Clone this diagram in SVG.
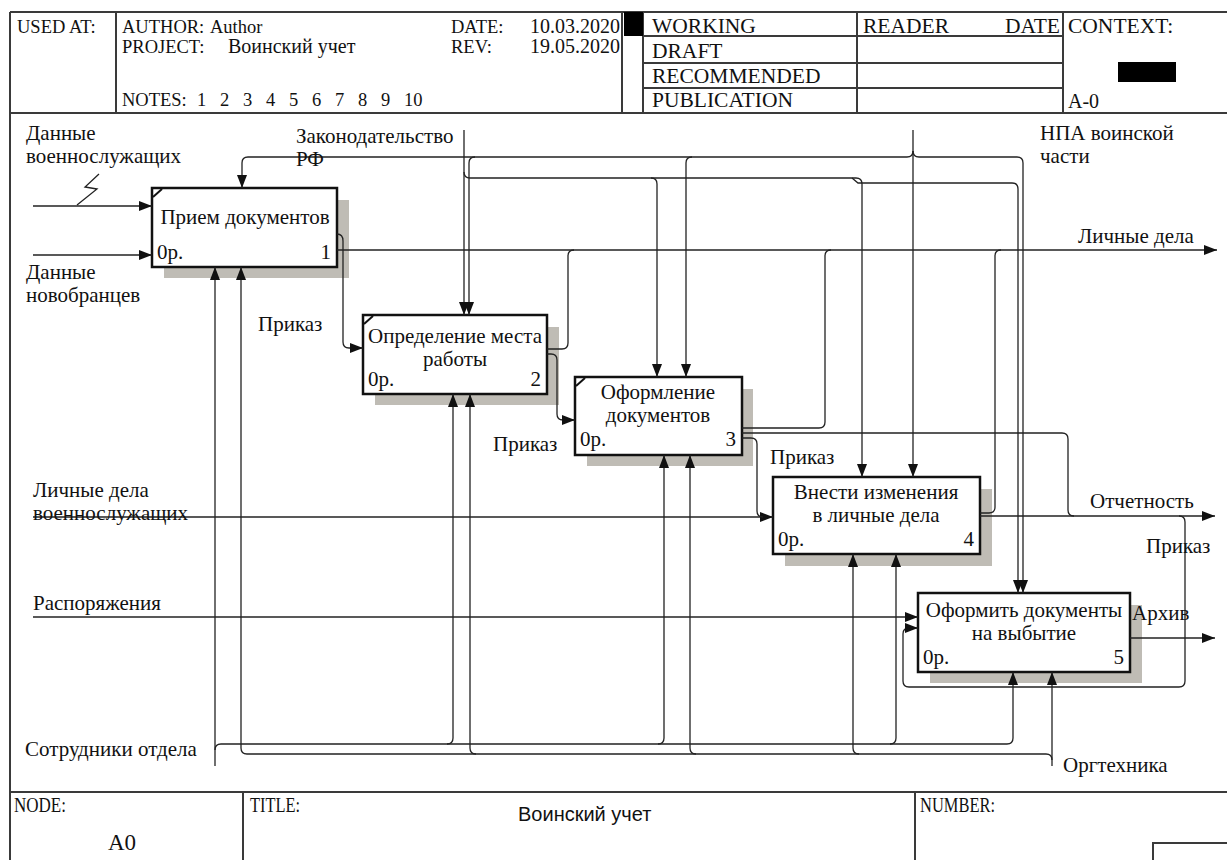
<svg xmlns="http://www.w3.org/2000/svg" width="1227" height="860" viewBox="0 0 1227 860">
<style>
.bg{fill:#fff}
.fr{fill:none;stroke:#3a3a3a;stroke-width:2}
.ht{font-family:"Liberation Serif","Times New Roman",serif;font-size:18.5px;fill:#111}
.hd{font-size:20px}
.hr{font-size:21.5px}
.ft{font-family:"Liberation Serif","Times New Roman",serif;font-size:20px;fill:#111}
.t{font-family:"Liberation Serif","Times New Roman",serif;font-size:21px;fill:#111}
.m{text-anchor:middle}
.e{text-anchor:end}
.box{fill:#fff;stroke:#111;stroke-width:2.5}
.sh{fill:#bfbcb5}
.c{fill:none;stroke:#222;stroke-width:1.3}
.ca{fill:none;stroke:#222;stroke-width:1.3;marker-end:url(#a)}
.cm{stroke:#111;stroke-width:2}
</style>
<defs>
<marker id="a" markerUnits="userSpaceOnUse" markerWidth="13" markerHeight="10" refX="13" refY="5" orient="auto">
<path d="M0,0 L13,5 L0,10 z" fill="#111"/>
</marker>
</defs>
<rect class="bg" x="0" y="0" width="1227" height="860"/>

<g id="frame">
<path class="fr" d="M10 12 H1227 M10 12 V860 M10 113 H1227 M116 12 V113 M622 12 V113 M643 12 V113 M857 12 V113 M1063 12 V113 M643 36 H1063 M643 63 H1063 M643 88 H1063"/>
<rect x="624" y="12" width="19" height="24" fill="#000"/>
<rect x="1118" y="62" width="58" height="20" fill="#000"/>
<text class="ht" x="17" y="33">USED AT:</text>
<text class="ht" x="122" y="33">AUTHOR:</text>
<text class="ht" x="210" y="33">Author</text>
<text class="ht" x="122" y="53">PROJECT:</text>
<text class="ht hd" x="228" y="53">Воинский учет</text>
<text class="ht" x="122" y="106">NOTES:<tspan x="197">1</tspan><tspan x="220">2</tspan><tspan x="243">3</tspan><tspan x="266">4</tspan><tspan x="289">5</tspan><tspan x="312">6</tspan><tspan x="335">7</tspan><tspan x="358">8</tspan><tspan x="381">9</tspan><tspan x="404">10</tspan></text>
<text class="ht" x="451" y="33">DATE:</text>
<text class="ht hd e" x="620" y="33">10.03.2020</text>
<text class="ht" x="451" y="53">REV:</text>
<text class="ht hd e" x="620" y="53">19.05.2020</text>
<text class="ht hr" x="652" y="33">WORKING</text>
<text class="ht hr" x="652" y="58">DRAFT</text>
<text class="ht hr" x="652" y="83">RECOMMENDED</text>
<text class="ht hr" x="652" y="107">PUBLICATION</text>
<text class="ht hr" x="863" y="33">READER</text>
<text class="ht hr e" x="1060" y="33">DATE</text>
<text class="ht hr" x="1068" y="33">CONTEXT:</text>
<text class="ht hd" x="1068" y="108">A-0</text>
<path class="fr" d="M10 792 H1227 M243 792 V860 M915 792 V860 M1153 860 V843 H1227"/>
<text class="ft" x="14" y="812" textLength="52" lengthAdjust="spacingAndGlyphs">NODE:</text>
<text class="t" x="108" y="850" style="font-size:23px">A0</text>
<text class="ft" x="250" y="812" textLength="50" lengthAdjust="spacingAndGlyphs">TITLE:</text>
<text class="t" x="518" y="821" style="font-family:'Liberation Sans',Arial,sans-serif;font-size:20px">Воинский учет</text>
<text class="ft" x="920" y="812" textLength="75" lengthAdjust="spacingAndGlyphs">NUMBER:</text>
</g>

<g id="node1">
<rect class="sh" x="164" y="200" width="185" height="78"/>
<rect class="box" x="152" y="188" width="185" height="79"/>
<line class="cm" x1="153" y1="197" x2="162" y2="189"/>
<text class="t m" x="245" y="224">Прием документов</text>
<text class="t" x="157" y="259">0р.</text>
<text class="t e" x="331" y="259">1</text>
</g>
<g id="node2">
<rect class="sh" x="375" y="327" width="184" height="78"/>
<rect class="box" x="363" y="315" width="184" height="79"/>
<line class="cm" x1="364" y1="324" x2="373" y2="316"/>
<text class="t m" x="455" y="343">Определение места</text>
<text class="t m" x="455" y="366">работы</text>
<text class="t" x="368" y="386">0р.</text>
<text class="t e" x="541" y="386">2</text>
</g>
<g id="node3">
<rect class="sh" x="587" y="389" width="166" height="77"/>
<rect class="box" x="575" y="377" width="167" height="78"/>
<line class="cm" x1="576" y1="386" x2="585" y2="378"/>
<text class="t m" x="658" y="399">Оформление</text>
<text class="t m" x="658" y="422">документов</text>
<text class="t" x="580" y="446">0р.</text>
<text class="t e" x="736" y="446">3</text>
</g>
<g id="node4">
<rect class="sh" x="785" y="489" width="207" height="77"/>
<rect class="box" x="773" y="477" width="207" height="77"/>
<text class="t m" x="876" y="499">Внести изменения</text>
<text class="t m" x="876" y="522">в личные дела</text>
<text class="t" x="778" y="546">0р.</text>
<text class="t e" x="974" y="546">4</text>
</g>
<g id="node5">
<rect class="sh" x="930" y="605" width="212" height="78"/>
<rect class="box" x="918" y="593" width="212" height="79"/>
<text class="t m" x="1024" y="617">Оформить документы</text>
<text class="t m" x="1024" y="640">на выбытие</text>
<text class="t" x="923" y="664">0р.</text>
<text class="t e" x="1124" y="664">5</text>
</g>

<g id="connectors">
<path class="ca" d="M33 206 H152"/>
<polyline class="c" points="99,174 85,187 97,189 77,205"/>
<path class="ca" d="M33 255 H152"/>
<path class="ca" d="M33 517 H773"/>
<path class="ca" d="M33 617 H918"/>
<path class="ca" d="M337 250 H1217"/>
<path class="ca" d="M337 234 Q343 234 343 241 V342 Q343 348 349 348 H363"/>
<path class="c" d="M547 349 H562 Q568 349 568 343 V256 Q568 250 574 250"/>
<path class="ca" d="M547 354 H551 Q557 354 557 360 V414 Q557 420 563 420 H575"/>
<path class="c" d="M742 428 H819 Q825 428 825 422 V256 Q825 250 831 250"/>
<path class="c" d="M742 433 H1062 Q1068 433 1068 439 V510 Q1068 516 1074 516"/>
<path class="c" d="M742 438 H751 Q757 438 757 444 V511 Q757 517 763 517"/>
<path class="c" d="M980 513 H989 Q995 513 995 507 V256 Q995 250 1001 250"/>
<path class="ca" d="M980 516 H1215"/>
<path class="ca" d="M1179 516 Q1185 516 1185 522 V681 Q1185 687 1179 687 H909 Q903 687 903 681 V634 Q903 628 909 628 H918"/>
<path class="ca" d="M1130 638 H1215"/>
<path class="ca" d="M464 130 V315"/>
<path class="c" d="M464 172 Q464 178 470 178 H856"/>
<path class="ca" d="M651 178 Q657 178 657 184 V377"/>
<path class="ca" d="M856 178 Q862 178 862 184 V477"/>
<path class="c" d="M852 178 L858 183 H1012"/>
<path class="ca" d="M1012 183 Q1018 183 1018 189 V593"/>
<path class="ca" d="M913 130 V477"/>
<path class="c" d="M913 151 Q913 157 907 157 H248"/>
<path class="ca" d="M248 157 Q242 157 242 163 V188"/>
<path class="ca" d="M475 157 Q469 157 469 163 V315"/>
<path class="ca" d="M692 157 Q686 157 686 163 V377"/>
<path class="ca" d="M913 151 Q913 157 919 157 H1017 Q1023 157 1023 163 V593"/>
<path class="ca" d="M215 766 V267"/>
<path class="ca" d="M215 750 Q215 744 221 744 H1007 Q1013 744 1013 738 V672"/>
<path class="ca" d="M447 744 Q453 744 453 738 V394"/>
<path class="ca" d="M658 744 Q664 744 664 738 V455"/>
<path class="ca" d="M890 744 Q896 744 896 738 V554"/>
<path class="ca" d="M1052 766 V672"/>
<path class="c" d="M1052 760 Q1052 754 1046 754 H247"/>
<path class="ca" d="M247 754 Q241 754 241 748 V267"/>
<path class="ca" d="M476 754 Q470 754 470 748 V394"/>
<path class="ca" d="M696 754 Q690 754 690 748 V455"/>
<path class="ca" d="M859 754 Q853 754 853 748 V554"/>
</g>

<g id="labels">
<text class="t" x="26" y="140">Данные</text>
<text class="t" x="26" y="163">военнослужащих</text>
<text class="t" x="26" y="279">Данные</text>
<text class="t" x="26" y="302">новобранцев</text>
<text class="t" x="296" y="143">Законодательство</text>
<text class="t" x="296" y="166">РФ</text>
<text class="t" x="1040" y="140">НПА воинской</text>
<text class="t" x="1040" y="163">части</text>
<text class="t" x="1078" y="243">Личные дела</text>
<text class="t" x="258" y="331">Приказ</text>
<text class="t" x="493" y="451">Приказ</text>
<text class="t" x="770" y="464">Приказ</text>
<text class="t" x="33" y="497">Личные дела</text>
<text class="t" x="33" y="520">военнослужащих</text>
<text class="t" x="1090" y="508">Отчетность</text>
<text class="t" x="1146" y="553">Приказ</text>
<text class="t" x="33" y="610">Распоряжения</text>
<text class="t" x="1132" y="620">Архив</text>
<text class="t" x="25" y="756">Сотрудники отдела</text>
<text class="t" x="1063" y="772">Оргтехника</text>
</g>
</svg>
